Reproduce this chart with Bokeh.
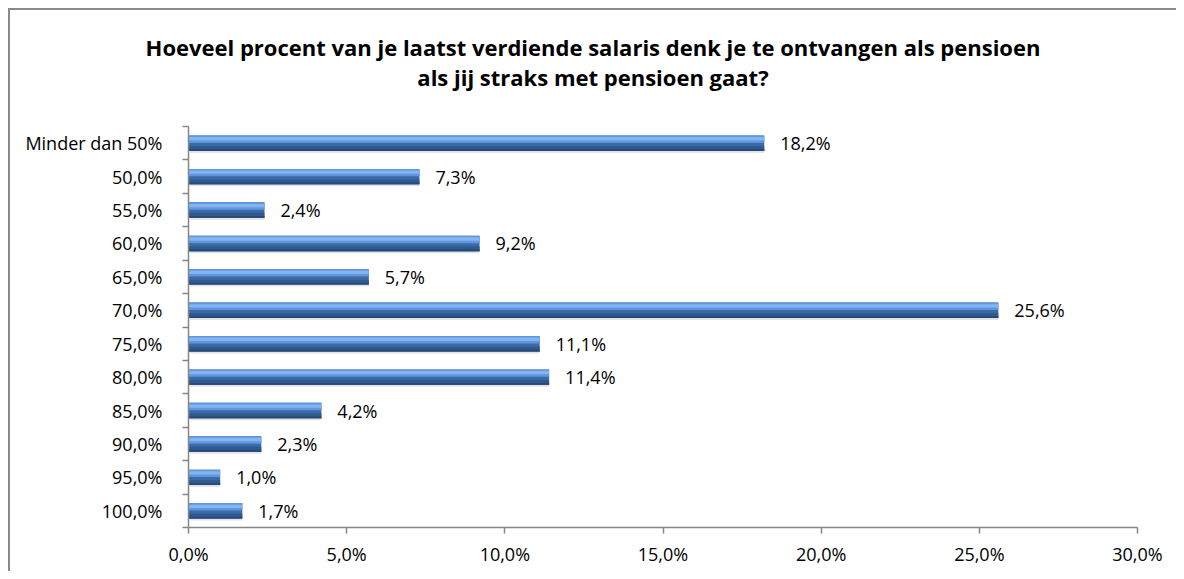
import html
from bokeh.plotting import figure
from bokeh.layouts import column
from bokeh.models import ColumnDataSource, Range1d, FixedTicker, Div
from bokeh.transform import dodge
from bokeh.core.properties import value
from bokeh.embed import file_html
from bokeh.resources import INLINE

# ---- data ----
categories = ["Minder dan 50%", "50,0%", "55,0%", "60,0%", "65,0%", "70,0%",
              "75,0%", "80,0%", "85,0%", "90,0%", "95,0%", "100,0%"]
percentages = [18.2, 7.3, 2.4, 9.2, 5.7, 25.6, 11.1, 11.4, 4.2, 2.3, 1.0, 1.7]
x_ticks = [0, 5, 10, 15, 20, 25, 30]
x_tick_labels = ["0,0%", "5,0%", "10,0%", "15,0%", "20,0%", "25,0%", "30,0%"]
title_line1 = "Hoeveel procent van je laatst verdiende salaris denk je te ontvangen als pensioen"
title_line2 = "als jij straks met pensioen gaat?"

FONT = "Open Sans"
N = len(categories)

idx = list(range(N))
src = ColumnDataSource(dict(
    y=idx,
    v=percentages,
    label=[f"{p:.1f}".replace(".", ",") + "%" for p in percentages],
))

# ---- title block ----
title_html = (
    "<div style=\"width:1150px; padding-top:22px; padding-left:16px; text-align:center; "
    "font-family:'Open Sans'; font-weight:bold; font-size:22px; line-height:30px; "
    "color:black; white-space:nowrap; margin:0;\">"
    f"{html.escape(title_line1)}<br>{html.escape(title_line2)}</div>"
)
title_div = Div(text=title_html, width=1166, height=110,
                styles={"background-color": "white", "margin": "0"})

# ---- plot ----
p = figure(width=1166, height=451, output_backend="svg", toolbar_location=None,
           x_range=Range1d(0, 30), y_range=Range1d(N - 0.5, -0.5),
           min_border_left=178, min_border_right=39, min_border_top=6,
           min_border_bottom=44)
p.outline_line_color = None
p.xgrid.grid_line_color = None
p.ygrid.grid_line_color = None
p.background_fill_color = "white"
p.border_fill_color = "white"
p.title.visible = False

# bars: layered to imitate Excel 3D gradient
H = 0.46
layers = [
    (0.00, 1.00, "#3a6aa8"),
    (0.00, 0.48, "#5f97de"),
    (0.10, 0.32, "#84b5f1"),
    (0.68, 1.00, "#30598d"),
    (0.88, 1.00, "#274977"),
]
# soft shadow
p.hbar(y=dodge("y", 0.06), right="v", left=0.05, height=H, source=src,
       fill_color="#b0b0b0", fill_alpha=0.35, line_color=None)
for f0, f1, col in layers:
    off = -H / 2 + (f0 + f1) / 2 * H
    p.hbar(y=dodge("y", off), right="v", left=0, height=(f1 - f0) * H,
           source=src, fill_color=col, line_color=None)

# value labels
p.text(x="v", y="y", text="label", source=src, x_offset=16,
       text_baseline="middle", text_align="left",
       text_font=value(FONT), text_font_size="18px", text_color="black")

# axes
ax = p.xaxis[0]
ax.ticker = FixedTicker(ticks=x_ticks)
ax.major_label_overrides = {t: l for t, l in zip(x_ticks, x_tick_labels)}
ax.axis_line_color = "#868686"
ax.axis_line_width = 1.5
ax.major_tick_line_color = "#868686"
ax.major_tick_line_width = 1.5
ax.major_tick_out = 6
ax.major_tick_in = 0
ax.minor_tick_line_color = None
ax.major_label_text_font = FONT
ax.major_label_text_font_size = "18px"
ax.major_label_text_color = "black"
ax.major_label_standoff = 8

ay = p.yaxis[0]
ay.ticker = FixedTicker(ticks=idx, minor_ticks=[i - 0.5 for i in range(N + 1)])
ay.major_label_overrides = {i: c for i, c in zip(idx, categories)}
ay.axis_line_color = "#868686"
ay.axis_line_width = 1.5
ay.major_tick_line_color = None
ay.major_tick_out = 0
ay.major_tick_in = 0
ay.minor_tick_line_color = "#868686"
ay.minor_tick_line_width = 1.5
ay.minor_tick_out = 6
ay.minor_tick_in = 0
ay.major_label_text_font = FONT
ay.major_label_text_font_size = "18px"
ay.major_label_text_color = "black"
ay.major_label_standoff = 20

layout = column(title_div, p, spacing=0,
                styles={"border-left": "2px solid #8a8a8a", "border-top": "2px solid #8a8a8a",
                        "margin-left": "8px", "margin-top": "8px",
                        "background-color": "white"})

open("out.html", "w").write(file_html(layout, INLINE))
